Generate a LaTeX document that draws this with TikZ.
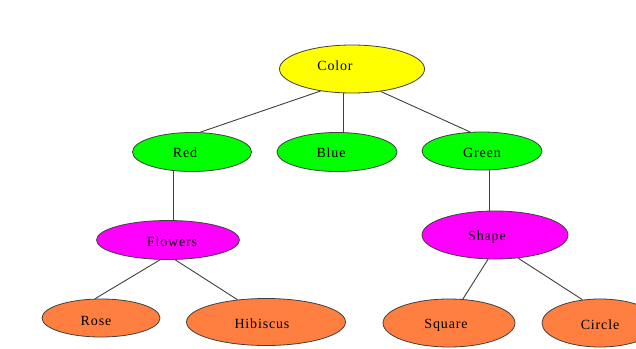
\documentclass[tikz,border=0pt]{standalone}
\usepackage{fontspec}
\setmainfont{Liberation Serif}
\newfontfamily\labelfont[LetterSpace=6]{Liberation Serif}
\usetikzlibrary{shapes.geometric}
\definecolor{cyellow}{RGB}{255,255,0}
\definecolor{cgreen}{RGB}{0,255,0}
\definecolor{cmagenta}{RGB}{255,0,255}
\definecolor{corange}{RGB}{255,127,64}
\definecolor{edgegray}{RGB}{64,64,64}
\tikzset{
  bubble/.style={ellipse, draw=black!75, line width=0.8pt, inner sep=0pt},
  caption/.style={font=\labelfont\fontsize{14}{16}\selectfont, text=black, inner sep=0pt},
  link/.style={draw=edgegray, line width=0.9pt},
  % text placed at an offset from the bubble centre
  tag/.style args={#1 at #2/#3}{label={[caption, xshift=#2, yshift=#3]center:#1}},
}
\begin{document}
\begin{tikzpicture}[x=1pt,y=-1pt]
  \useasboundingbox (0,0) rectangle (636,348);
  \fill[white] (0,0) rectangle (636,348);
  % root
  \node[bubble, fill=cyellow, minimum width=145, minimum height=48,
        tag={Color at -17pt/3pt}] (color) at (352,69) {};
  % second level
  \node[bubble, fill=cgreen, minimum width=119, minimum height=39,
        tag={Red at -7pt/-1pt}] (red) at (192,152) {};
  \node[bubble, fill=cgreen, minimum width=120, minimum height=39,
        tag={Blue at -6pt/-1pt}] (blue) at (337,152) {};
  \node[bubble, fill=cgreen, minimum width=120, minimum height=38,
        tag={Green at 0pt/-2pt}] (green) at (482,151) {};
  % third level
  \node[bubble, fill=cmagenta, minimum width=143, minimum height=39,
        tag={Flowers at 4pt/-2pt}] (flowers) at (168,240) {};
  \node[bubble, fill=cmagenta, minimum width=146, minimum height=48,
        tag={Shape at -8pt/-2pt}] (shape) at (495,235) {};
  % leaves
  \node[bubble, fill=corange, minimum width=118, minimum height=38,
        tag={Rose at -5pt/-3pt}] (rose) at (101,318) {};
  \node[bubble, fill=corange, minimum width=159, minimum height=47,
        tag={Hibiscus at -4pt/-2pt}] (hibiscus) at (266,322) {};
  \node[bubble, fill=corange, minimum width=132, minimum height=48,
        tag={Square at -3pt/-2pt}] (square) at (449,323) {};
  \node[bubble, fill=corange, minimum width=116, minimum height=48,
        tag={Circle at 0pt/-2pt}] (circle) at (600,323) {};
  % connectors
  \draw[link] (color.215) -- (red.68);
  \draw[link] (color.251) -- (color.251 |- blue.north);
  \draw[link] (color.322) -- (green.122);
  \draw[link] (red.225) -- (red.225 |- flowers.north);
  \draw[link] (green.290) -- (green.290 |- shape.north);
  \draw[link] (flowers.248) -- (rose.107);
  \draw[link] (flowers.290) -- (hibiscus.142);
  \draw[link] (shape.254) -- (square.60);
  \draw[link] (shape.315) -- (circle.127);
\end{tikzpicture}
\end{document}
